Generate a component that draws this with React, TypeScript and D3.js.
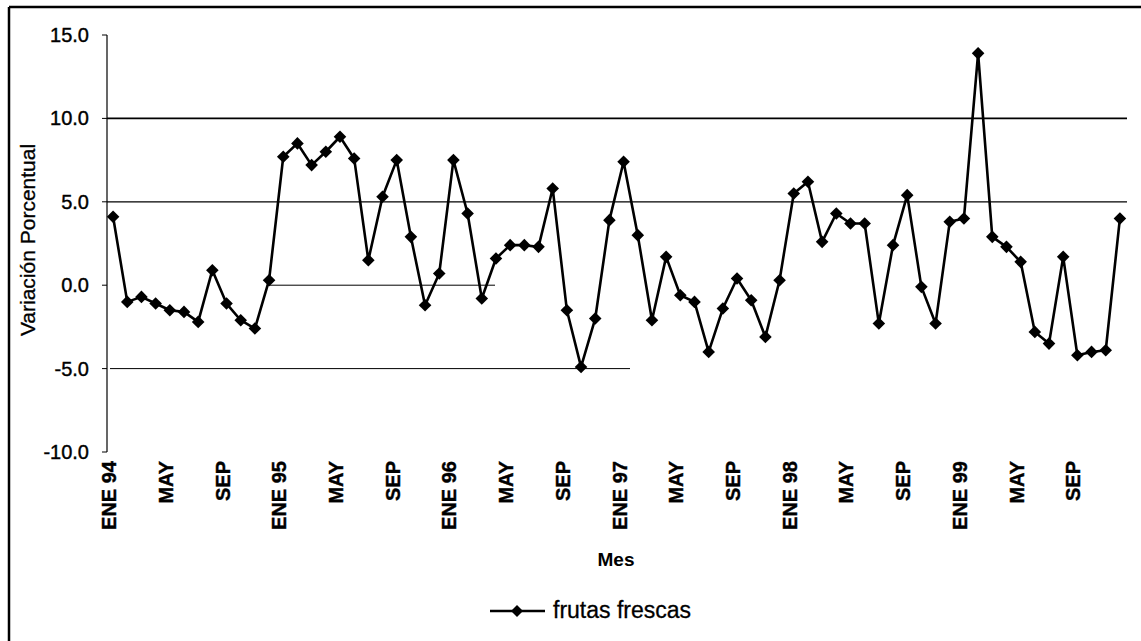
import React from "react";
import * as d3 from "d3";

const seriesName = "frutas frescas";
const monthNames = ["ENE", "FEB", "MAR", "ABR", "MAY", "JUN", "JUL", "AGO", "SEP", "OCT", "NOV", "DIC"];
const years = ["94", "95", "96", "97", "98", "99"];
const values = [
  4.1, -1.0, -0.7, -1.1, -1.5, -1.6, -2.2, 0.9, -1.1, -2.1, -2.6, 0.3,
  7.7, 8.5, 7.2, 8.0, 8.9, 7.6, 1.5, 5.3, 7.5, 2.9, -1.2, 0.7,
  7.5, 4.3, -0.8, 1.6, 2.4, 2.4, 2.3, 5.8, -1.5, -4.9, -2.0, 3.9,
  7.4, 3.0, -2.1, 1.7, -0.6, -1.0, -4.0, -1.4, 0.4, -0.9, -3.1, 0.3,
  5.5, 6.2, 2.6, 4.3, 3.7, 3.7, -2.3, 2.4, 5.4, -0.1, -2.3, 3.8,
  4.0, 13.9, 2.9, 2.3, 1.4, -2.8, -3.5, 1.7, -4.2, -4.0, -3.9, 4.0,
];
const yTicks = [15, 10, 5, 0, -5, -10];
const gridFull = [10, 5];

const months: string[] = [];
years.forEach((y) => monthNames.forEach((m) => months.push(`${m} ${y}`)));

const FONT = "'Liberation Sans', Arial, sans-serif";

export default function App() {
  const W = 1141, H = 641;
  const x = d3.scalePoint<number>().domain(values.map((_, i) => i)).range([106, 1127]).padding(0.5);
  const y = d3.scaleLinear().domain([-10, 15]).range([452, 35]);
  const line = d3.line<number>().x((_, i) => x(i)!).y((d) => y(d));
  const diamond = (cx: number, cy: number, r: number) =>
    `M${cx},${cy - r}L${cx + r},${cy}L${cx},${cy + r}L${cx - r},${cy}Z`;

  const labelIdx = values.map((_, i) => i).filter((i) => i % 4 === 0);
  const labelText = (i: number) => (i % 12 === 0 ? months[i] : monthNames[i % 12]);

  return (
    <svg width={W} height={H} style={{ position: "absolute", left: 0, top: 0, background: "#fff" }}>
      <rect x={0} y={0} width={W} height={H} fill="#fff" />
      {/* frame */}
      <line x1={9} y1={7} x2={W} y2={7} stroke="#000" strokeWidth={2.5} />
      <line x1={9} y1={7} x2={9} y2={H} stroke="#000" strokeWidth={2.5} />
      {/* gridlines */}
      {gridFull.map((v) => (
        <line key={v} x1={107} x2={1127} y1={y(v)} y2={y(v)} stroke="#000" strokeWidth={v === 10 ? 1.8 : 1.3} />
      ))}
      <line x1={267} x2={495} y1={y(0)} y2={y(0)} stroke="#000" strokeWidth={1} />
      <line x1={110} x2={630} y1={y(-5)} y2={y(-5)} stroke="#000" strokeWidth={1} />
      {/* y axis */}
      <line x1={107} x2={107} y1={y(15)} y2={y(-10)} stroke="#000" strokeWidth={1.2} />
      {yTicks.map((v) => (
        <g key={v}>
          <line x1={102} x2={107} y1={y(v)} y2={y(v)} stroke="#000" strokeWidth={1} />
          <text x={89} y={y(v)} dy="0.35em" textAnchor="end" fontFamily={FONT} fontSize={20} fill="#000" stroke="#000" strokeWidth={0.4}>
            {v.toFixed(1)}
          </text>
        </g>
      ))}
      <text
        transform={`translate(35,240) rotate(-90)`}
        textAnchor="middle"
        fontFamily={FONT}
        fontSize={21}
        fill="#000"
        stroke="#000"
        strokeWidth={0.3}
      >
        Variación Porcentual
      </text>
      {/* x labels */}
      {labelIdx.map((i) => (
        <text
          key={i}
          transform={`translate(${x(i)! + 3},461) rotate(-90)`}
          textAnchor="end"
          fontFamily={FONT}
          fontWeight="bold"
          fontSize={20}
          fill="#000"
          stroke="#000"
          strokeWidth={0.4}
        >
          {labelText(i)}
        </text>
      ))}
      <text x={616} y={566} textAnchor="middle" fontFamily={FONT} fontWeight="bold" fontSize={19} fill="#000">
        Mes
      </text>
      {/* series */}
      <path d={line(values)!} fill="none" stroke="#000" strokeWidth={2.6} strokeLinejoin="round" />
      {values.map((v, i) => (
        <path key={i} d={diamond(x(i)!, y(v), 6.3)} fill="#000" />
      ))}
      {/* legend */}
      <line x1={490} x2={545} y1={611} y2={611} stroke="#000" strokeWidth={2.5} />
      <path d={diamond(517, 611, 6)} fill="#000" />
      <text x={553} y={618} fontFamily={FONT} fontSize={23} fill="#000" stroke="#000" strokeWidth={0.3}>
        {seriesName}
      </text>
    </svg>
  );
}
